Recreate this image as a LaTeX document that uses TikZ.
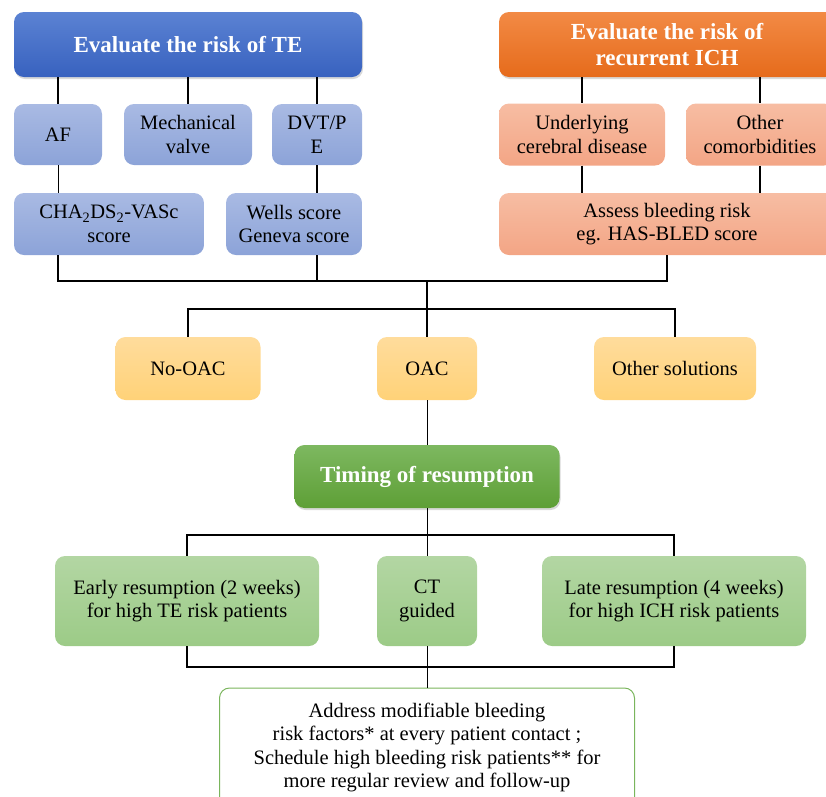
\documentclass[tikz,border=0pt]{standalone}
\usepackage{fontspec}
\setmainfont{Liberation Serif}
\usetikzlibrary{shadows}
\definecolor{teTop}{HTML}{5B82D3}
\definecolor{teBot}{HTML}{3862BF}
\definecolor{teLtTop}{HTML}{A9BAE3}
\definecolor{teLtBot}{HTML}{8CA3D8}
\definecolor{ichTop}{HTML}{F28A45}
\definecolor{ichBot}{HTML}{E66B1B}
\definecolor{ichLtTop}{HTML}{F7BDA3}
\definecolor{ichLtBot}{HTML}{F3A585}
\definecolor{oacTop}{HTML}{FFDC9C}
\definecolor{oacBot}{HTML}{FFD278}
\definecolor{resTop}{HTML}{7DB860}
\definecolor{resBot}{HTML}{5E9F36}
\definecolor{resLtTop}{HTML}{B3D6A3}
\definecolor{resLtBot}{HTML}{9CCB87}
\definecolor{adviceLine}{HTML}{7AB55C}
\begin{document}
\begin{tikzpicture}[x=1pt,y=-1pt]
        \tikzstyle{box}=[rectangle,rounded corners=10pt,align=center,inner sep=2pt,font=\fontsize{20.5}{23.5}\selectfont]
        \tikzstyle{head}=[box,text=white,font=\fontsize{23}{26.5}\selectfont\bfseries,drop shadow={opacity=0.3,shadow xshift=1pt,shadow yshift=-2pt}]
        \tikzstyle{teHead}=[head,top color=teTop,bottom color=teBot]
        \tikzstyle{teBox}=[box,top color=teLtTop,bottom color=teLtBot]
        \tikzstyle{ichHead}=[head,top color=ichTop,bottom color=ichBot]
        \tikzstyle{ichBox}=[box,top color=ichLtTop,bottom color=ichLtBot]
        \tikzstyle{choice}=[box,top color=oacTop,bottom color=oacBot,minimum height=63pt]
        \tikzstyle{resHead}=[head,top color=resTop,bottom color=resBot]
        \tikzstyle{resBox}=[box,top color=resLtTop,bottom color=resLtBot,minimum height=90pt]
        \tikzstyle{advice}=[box,draw=adviceLine,line width=1pt,fill=white]
        \tikzstyle{edge}=[draw,line width=1.6pt]
        \tikzstyle{thinedge}=[draw,line width=0.9pt]
        \useasboundingbox (0,0) rectangle (826,796);
        \clip (0,0) rectangle (826,796);
        % risk of TE
        \node [teHead,minimum width=348pt,minimum height=65pt] (te) at (188,44.5) {Evaluate the risk of TE};
        \node [teBox,minimum width=88pt,minimum height=61pt] (af) at (58,134.5) {AF};
        \node [teBox,minimum width=128pt,minimum height=61pt] (mech) at (188,134.5) {Mechanical\\valve};
        \node [teBox,minimum width=90pt,minimum height=61pt] (dvt) at (317,134.5) {DVT/P\\E};
        \node [teBox,minimum width=190pt,minimum height=62pt] (cha) at (109,224) {CHA\textsubscript{2}DS\textsubscript{2}-VASc\\score};
        \node [teBox,minimum width=136pt,minimum height=62pt] (wells) at (294,224) {Wells score\\Geneva score};
        % risk of recurrent ICH
        \node [ichHead,minimum width=336pt,minimum height=65pt] (ich) at (667,44.5) {Evaluate the risk of\\recurrent ICH};
        \node [ichBox,minimum width=166pt,minimum height=62pt] (under) at (582,134.5) {Underlying\\cerebral disease};
        \node [ichBox,minimum width=148pt,minimum height=62pt] (comor) at (760,134.5) {Other\\comorbidities};
        \node [ichBox,minimum width=336pt,minimum height=62pt] (assess) at (667,224) {Assess bleeding risk\\eg. HAS-BLED score};
        % decision
        \node [choice,minimum width=145pt] (nooac) at (188,368.5) {No-OAC};
        \node [choice,minimum width=100pt] (oac) at (427,368.5) {OAC};
        \node [choice,minimum width=162pt] (other) at (675,368.5) {Other solutions};
        % resumption
        \node [resHead,minimum width=265pt,minimum height=63pt] (timing) at (427,476.5) {Timing of resumption};
        \node [resBox,minimum width=264pt] (early) at (187,601) {Early resumption (2 weeks)\\for high TE risk patients};
        \node [resBox,minimum width=100pt] (ct) at (427,601) {CT\\guided};
        \node [resBox,minimum width=264pt] (late) at (674,601) {Late resumption (4 weeks)\\for high ICH risk patients};
        \node [advice,minimum width=415pt,minimum height=119pt] (final) at (427,747.5) {Address modifiable bleeding\\risk factors* at every patient contact ;\\Schedule high bleeding risk patients** for\\more regular review and follow-up};
        \coordinate (mergeTop) at (427,281);
        \coordinate (splitOac) at (427,309);
        \coordinate (splitRes) at (427,535);
        \coordinate (mergeRes) at (427,667);
        \path[edge] (af.north |- te.south) edge (af.north);
        \path[edge] (mech.north |- te.south) edge (mech.north);
        \path[edge] (dvt.north |- te.south) edge (dvt.north);
        \path[thinedge] (af.south) edge (af.south |- cha.north);
        \path[edge] (dvt.south) edge (dvt.south |- wells.north);
        \path[edge] (under.north |- ich.south) edge (under.north);
        \path[edge] (comor.north |- ich.south) edge (comor.north);
        \path[edge] (under.south) edge (under.south |- assess.north);
        \path[edge] (comor.south) edge (comor.south |- assess.north);
        \draw[edge] (af.south |- cha.south) |- (mergeTop) -| (assess.south);
        \path[edge] (dvt.south |- wells.south) edge (dvt.south |- mergeTop);
        \path[edge] (mergeTop) edge (oac.north);
        \draw[edge] (nooac.north) |- (splitOac) -| (other.north);
        \path[thinedge] (oac.south) edge (timing.north);
        \path[thinedge] (timing.south) edge (ct.north);
        \draw[edge] (early.north) |- (splitRes) -| (late.north);
        \draw[edge] (early.south) |- (mergeRes) -| (late.south);
        \path[thinedge] (ct.south) edge (final.north);
\end{tikzpicture}
\end{document}
